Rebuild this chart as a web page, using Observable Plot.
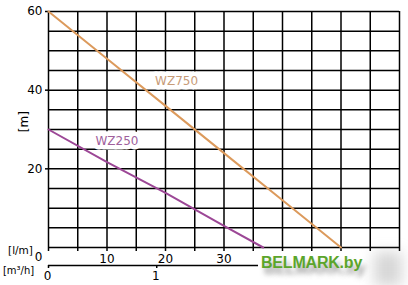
<!DOCTYPE html>
<html><head><meta charset="utf-8">
<script src="https://cdn.jsdelivr.net/npm/d3@7"></script>
<script src="https://cdn.jsdelivr.net/npm/@observablehq/plot@0.6"></script>
<style>
body{margin:0;background:#fff;}
#wrap{position:relative;width:408px;height:285px;overflow:hidden;background:#fff;}
#wm{position:absolute;left:261px;top:254px;font:bold 16px "Liberation Sans",Arial,sans-serif;color:#5ca52b;letter-spacing:-0.2px;text-shadow:3px 6px 5px rgba(80,80,80,0.55);white-space:nowrap;}
#smudge{position:absolute;left:374px;top:252px;width:28px;height:34px;background:rgba(140,140,140,0.35);filter:blur(7px);}
</style></head><body><div id="wrap"><div id="smudge"></div></div>
<script>
// flow axis [l/min]
const gridFlow = [0, 5, 10, 15, 20, 25, 30, 35, 40, 45, 50, 55, 60];
const flowLabels = [10, 20, 30];
// head axis [m]
const gridHead = [0, 5, 10, 15, 20, 25, 30, 35, 40, 45, 50, 55, 60];
const headLabels = [20, 40, 60];
// secondary flow axis [m³/h]
const m3hTicks = [0, 1];
const lpmPerM3hAsDrawn = 18.5;
const m3hAxisEnd = 35.9;

// pump curves
const wz750Flow = [0, 10, 20, 30, 40, 50];
const wz750Head = [60, 48, 36, 24, 12, 0];
const wz250Flow = [0, 10, 20, 25, 30, 36.7];
const wz250Head = [30, 21.7, 13.9, 9.7, 5.5, 0];

const curves = [
  {name: "WZ750", flow: wz750Flow, head: wz750Head, color: "#dc9a5c", labelColor: "#c79b78", lx: 21.9, ly: 42.2},
  {name: "WZ250", flow: wz250Flow, head: wz250Head, color: "#9c4796", labelColor: "#a05f9c", lx: 11.7, ly: 27.0}
];
const lineData = curves.flatMap(c => c.flow.map((f, i) => ({name: c.name, flow: f, head: c.head[i], color: c.color})));

const font = "DejaVu Sans, sans-serif";
const chart = Plot.plot({
  width: 408, height: 285,
  marginLeft: 48, marginRight: 9, marginTop: 11, marginBottom: 38,
  x: {domain: [0, 60]},
  y: {domain: [0, 60]},
  style: {fontFamily: font, fontSize: "12px", color: "#000", background: "transparent", overflow: "visible"},
  marks: [
    Plot.ruleX(gridFlow, {stroke: "#000", strokeWidth: 1.5}),
    Plot.ruleY(gridHead, {stroke: "#000", strokeWidth: 1.5}),
    Plot.axisX({ticks: gridFlow, tickSize: 4, tickPadding: 3, strokeWidth: 1.5, label: null, fontSize: 12,
      tickFormat: d => flowLabels.includes(d) ? String(d) : ""}),
    Plot.axisY({ticks: headLabels, tickSize: 3, tickPadding: 3, strokeWidth: 1.5, label: null, fontSize: 12}),
    Plot.line(lineData, {x: "flow", y: "head", z: "name", stroke: "color", strokeWidth: 2}),
    Plot.text(curves, {x: "lx", y: "ly", text: "name", fill: "labelColor", stroke: "white", strokeWidth: 9, fontSize: 12, fontFamily: font}),
    // l/m axis zero and unit
    Plot.text([0], {x: 0, y: 0, text: d => String(d), dx: -10, dy: 10, fontSize: 12}),
    Plot.text(["[l/m]"], {x: 0, y: 0, text: d => d, dx: -28, dy: 3, fontSize: 10.5}),
    // head unit
    Plot.text(["[m]"], {x: 0, y: 32, text: d => d, dx: -24, rotate: -90, fontSize: 12}),
    // secondary m³/h axis
    Plot.ruleY([0], {x1: 0, x2: m3hAxisEnd, dy: 18, stroke: "#000", strokeWidth: 1.5}),
    Plot.ruleX(m3hTicks, {x: d => d * lpmPerM3hAsDrawn, y1: 0, y2: 0, insetBottom: -3, dy: 18, stroke: "#000", strokeWidth: 1.5}),
    Plot.text(m3hTicks, {x: d => d * lpmPerM3hAsDrawn, y: 0, text: d => String(d), dy: 29, dx: -1, fontSize: 12}),
    Plot.text(["[m³/h]"], {x: 0, y: 0, text: d => d, dx: -30, dy: 23, fontSize: 10})
  ]
});
const wrap = document.getElementById("wrap");
wrap.insertBefore(chart, wrap.firstChild);
const wm = document.createElement("div");
wm.id = "wm"; wm.textContent = "BELMARK.by";
wrap.appendChild(wm);
</script></body></html>
